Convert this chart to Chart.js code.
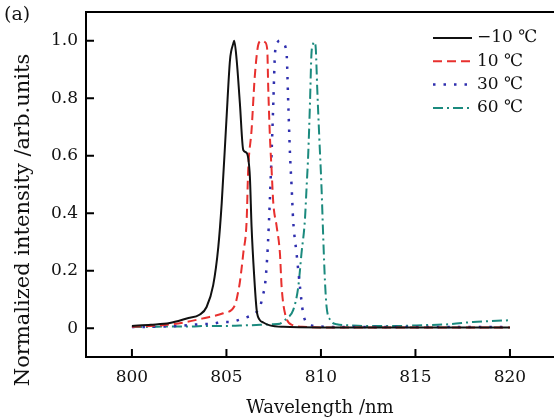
<!DOCTYPE html>
<html>
<head>
<meta charset="utf-8">
<script src="https://cdn.jsdelivr.net/npm/chart.js@4.4.0/dist/chart.umd.min.js"></script>
<style>
  html, body { margin: 0; padding: 0; background: #fff; }
</style>
</head>
<body>
<canvas id="chart" width="554" height="419"></canvas>
<script>
// values
const xTicks = [800, 805, 810, 815, 820];
const yTicks = [0, 0.2, 0.4, 0.6, 0.8, 1.0];

const seriesNames = ["\u221210 \u2103", "10 \u2103", "30 \u2103", "60 \u2103"];

const wlM10 = [800, 801, 802, 802.9, 803.6, 803.95, 804.3, 804.57, 804.75, 805.0, 805.19, 805.36, 805.41, 805.54, 805.71, 805.89, 806.07, 806.24, 806.33, 806.46, 806.6, 806.75, 806.95, 807.3, 808, 810, 812, 815, 818, 820];
const intM10 = [0.008, 0.012, 0.018, 0.034, 0.048, 0.074, 0.15, 0.283, 0.435, 0.725, 0.934, 0.99, 1.0, 0.934, 0.784, 0.62, 0.61, 0.527, 0.353, 0.19, 0.063, 0.03, 0.02, 0.01, 0.005, 0.003, 0.003, 0.003, 0.003, 0.003];

const wl10 = [800, 801, 802, 802.9, 803.8, 804.83, 805.45, 805.6, 805.71, 805.89, 806.07, 806.15, 806.33, 806.5, 806.7, 806.86, 807.04, 807.16, 807.21, 807.3, 807.39, 807.48, 807.66, 807.83, 807.92, 808.1, 808.53, 809, 810, 812, 815, 818, 820];
const int10 = [0.005, 0.008, 0.013, 0.022, 0.035, 0.052, 0.08, 0.12, 0.16, 0.26, 0.376, 0.55, 0.69, 0.876, 0.99, 1.0, 0.995, 0.969, 0.84, 0.667, 0.55, 0.435, 0.353, 0.26, 0.144, 0.051, 0.01, 0.005, 0.003, 0.003, 0.003, 0.003, 0.003];

const wl30 = [800, 801, 802.2, 803.6, 804.3, 804.83, 805.19, 805.7, 806.15, 806.5, 806.8, 806.95, 807.04, 807.16, 807.2, 807.3, 807.39, 807.48, 807.57, 807.7, 807.85, 808.0, 808.18, 808.27, 808.36, 808.45, 808.53, 808.71, 808.89, 809.06, 809.33, 810, 812, 815, 818, 820];
const int30 = [0.004, 0.005, 0.007, 0.014, 0.016, 0.022, 0.022, 0.03, 0.04, 0.05, 0.08, 0.12, 0.15, 0.25, 0.3, 0.45, 0.61, 0.784, 0.957, 0.995, 1.0, 0.99, 0.957, 0.784, 0.61, 0.49, 0.376, 0.26, 0.144, 0.051, 0.016, 0.006, 0.004, 0.004, 0.004, 0.004];

const wl60 = [800, 801, 802, 803, 804, 805, 806, 806.8, 807.4, 807.83, 808.18, 808.53, 808.8, 808.97, 809.15, 809.24, 809.33, 809.42, 809.5, 809.59, 809.66, 809.73, 809.8, 809.91, 810.03, 810.12, 810.21, 810.3, 810.48, 810.83, 811.5, 812.4, 814, 815.06, 816.8, 818.06, 819, 820];
const int60 = [0.004, 0.005, 0.006, 0.006, 0.008, 0.008, 0.01, 0.012, 0.014, 0.016, 0.034, 0.063, 0.144, 0.26, 0.376, 0.49, 0.61, 0.784, 0.957, 0.99, 0.995, 0.969, 0.84, 0.667, 0.49, 0.318, 0.167, 0.074, 0.03, 0.014, 0.01, 0.008, 0.008, 0.01, 0.014, 0.022, 0.025, 0.028];

const yTitle = "Normalized intensity /arb.units";

const toPts = (xs, ys) => xs.map((x, i) => ({ x: x, y: ys[i] }));

const serif = "'DejaVu Serif', 'Liberation Serif', serif";

// frame, inward ticks, legend, y title and panel tag
const decorations = {
  id: "decorations",
  afterDraw(chart) {
    const { ctx, chartArea: a, scales } = chart;
    ctx.save();
    ctx.strokeStyle = "#000";
    ctx.lineWidth = 2;
    ctx.beginPath();
    ctx.moveTo(chart.width, a.top);
    ctx.lineTo(a.left, a.top);
    ctx.lineTo(a.left, a.bottom);
    ctx.lineTo(chart.width, a.bottom);
    ctx.stroke();

    ctx.beginPath();
    yTicks.forEach(v => {
      const y = scales.y.getPixelForValue(v);
      ctx.moveTo(a.left, y);
      ctx.lineTo(a.left + 8, y);
    });
    xTicks.forEach(v => {
      const x = scales.x.getPixelForValue(v);
      ctx.moveTo(x, a.bottom);
      ctx.lineTo(x, a.bottom - 8);
    });
    ctx.stroke();

    // legend
    ctx.font = "17px " + serif;
    ctx.textBaseline = "middle";
    ctx.textAlign = "left";
    chart.data.datasets.forEach((ds, i) => {
      const y = 38 + i * 23.3;
      ctx.strokeStyle = ds.borderColor;
      ctx.lineWidth = ds.borderWidth;
      ctx.setLineDash(ds.borderDash || []);
      ctx.lineCap = ds.borderCapStyle || "butt";
      ctx.beginPath();
      ctx.moveTo(433, y);
      ctx.lineTo(472, y);
      ctx.stroke();
      ctx.setLineDash([]);
      ctx.fillStyle = "#111";
      ctx.fillText(ds.label, 477, y);
    });

    // y title sits a bit below the plot centre in the reference
    ctx.save();
    ctx.translate(24, 220);
    ctx.rotate(-Math.PI / 2);
    ctx.textAlign = "center";
    ctx.font = "21px " + serif;
    ctx.fillText(yTitle, 0, 0);
    ctx.restore();

    ctx.font = "19px " + serif;
    ctx.fillStyle = "#111";
    ctx.textBaseline = "middle";
    ctx.fillText("(a)", 4, 15);
    ctx.restore();
  }
};

new Chart(document.getElementById("chart"), {
  type: "line",
  data: {
    datasets: [
      {
        label: seriesNames[0],
        data: toPts(wlM10, intM10),
        borderColor: "#111111",
        borderWidth: 2
      },
      {
        label: seriesNames[1],
        data: toPts(wl10, int10),
        borderColor: "#e8302e",
        borderWidth: 2,
        borderDash: [9, 5]
      },
      {
        label: seriesNames[2],
        data: toPts(wl30, int30),
        borderColor: "#2f2fae",
        borderWidth: 2.5,
        borderDash: [2.5, 8]
      },
      {
        label: seriesNames[3],
        data: toPts(wl60, int60),
        borderColor: "#1b8a7e",
        borderWidth: 2,
        borderDash: [10, 4, 2, 4]
      }
    ]
  },
  options: {
    responsive: false,
    animation: false,
    devicePixelRatio: 1,
    parsing: false,
    layout: { padding: { top: 12, right: 0, left: 0, bottom: 0 } },
    elements: {
      point: { radius: 0 },
      line: { tension: 0.3, cubicInterpolationMode: "monotone", fill: false }
    },
    plugins: {
      legend: { display: false },
      tooltip: { enabled: false }
    },
    scales: {
      x: {
        type: "linear",
        min: 797.57,
        max: 822.33,
        grid: { display: false, drawTicks: false },
        border: { display: false },
        afterBuildTicks: s => { s.ticks = xTicks.map(v => ({ value: v })); },
        afterFit: s => { s.height = 62; s.paddingLeft = 0; s.paddingRight = 0; },
        ticks: {
          padding: 10,
          color: "#111",
          font: { family: serif, size: 17 },
          callback: v => String(v)
        },
        title: {
          display: true,
          text: "Wavelength /nm",
          color: "#111",
          font: { family: serif, size: 18 },
          padding: { top: 0, bottom: 0 }
        }
      },
      y: {
        min: -0.1,
        max: 1.1,
        grid: { display: false, drawTicks: false },
        border: { display: false },
        afterBuildTicks: s => { s.ticks = yTicks.map(v => ({ value: v })); },
        afterFit: s => { s.width = 86; s.paddingTop = 0; s.paddingBottom = 0; },
        ticks: {
          padding: 8,
          color: "#111",
          font: { family: serif, size: 17 },
          callback: v => (v === 0 ? "0" : v.toFixed(1))
        },
        title: { display: false }
      }
    }
  },
  plugins: [decorations]
});
</script>
</body>
</html>
